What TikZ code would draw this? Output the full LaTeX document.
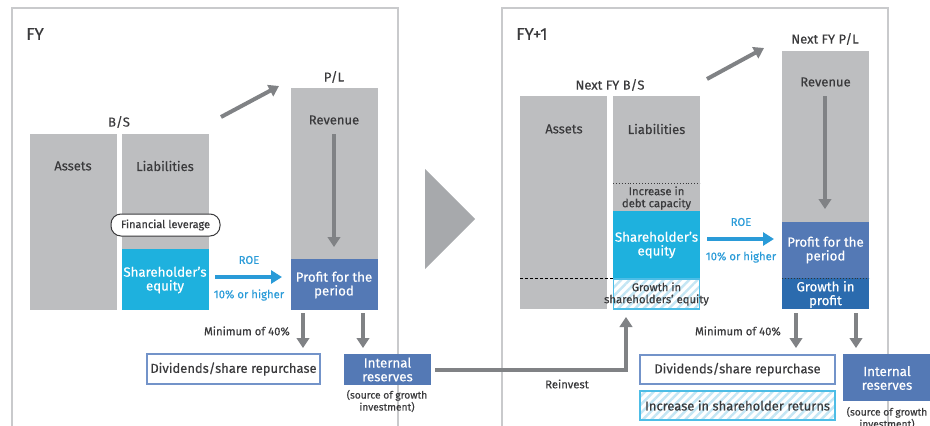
\documentclass[tikz,border=0pt]{standalone}
\usepackage{fontspec}
\setmainfont{Fira Sans}[FakeBold=0.35]
\usetikzlibrary{arrows.meta,patterns.meta}

\definecolor{boxgray}{HTML}{BDBEC0}
\definecolor{arrgray}{HTML}{808285}
\definecolor{eqcyan}{HTML}{1EB1DE}
\definecolor{pblue}{HTML}{5479B5}
\definecolor{dblue}{HTML}{2B6BAE}
\definecolor{roeblue}{HTML}{2A9BD8}
\definecolor{txt}{HTML}{3A3A3C}
\definecolor{framec}{HTML}{C9CACC}
\definecolor{tric}{HTML}{A7A9AC}
\definecolor{divborder}{HTML}{7393C9}
\definecolor{hatchc}{HTML}{C4E6F4}
\definecolor{hatchborder}{HTML}{4DBDE6}

\tikzset{
  blk/.style={inner sep=0, outer sep=0, anchor=north west},
  graybox/.style={blk, fill=boxgray},
  cyanbox/.style={blk, fill=eqcyan},
  bluebox/.style={blk, fill=pblue},
  darkbox/.style={blk, fill=dblue},
  hatchbox/.style={blk, draw=hatchborder, line width=1.3pt,
    preaction={fill=white},
    pattern={Lines[angle=45,distance=6pt,line width=2.4pt]}, pattern color=hatchc},
  outlinebox/.style={blk, fill=white, draw=divborder, line width=1.3pt},
  lab/.style={inner sep=0, align=center, text=txt, font=\fontsize{13}{14}\selectfont},
  wlab/.style={lab, text=white, font=\fontsize{13.3}{13.8}\selectfont},
  small/.style={lab, font=\fontsize{11.3}{12}\selectfont},
  tiny/.style={lab, font=\fontsize{10.2}{12}\selectfont},
  roelab/.style={lab, text=roeblue, font=\fontsize{11.3}{12}\selectfont},
  title/.style={lab, anchor=west, font=\fontsize{17}{18}\selectfont},
  frameline/.style={draw=framec, line width=1.3pt},
  garrow/.style={draw=arrgray, line width=4pt, -{Triangle[width=12.5pt,length=10pt]}},
  groute/.style={draw=arrgray, line width=4pt, -{Triangle[width=12.5pt,length=10pt]}},
  roearrow/.style={draw=roeblue, line width=4.5pt, -{Triangle[width=13pt,length=11pt]}},
  pill/.style={inner sep=0, fill=white, draw=txt, line width=1pt, rounded corners=10pt,
    minimum width=109pt, minimum height=22pt, text=txt, font=\fontsize{11}{12}\selectfont},
}

\begin{document}
\begin{tikzpicture}[x=1pt,y=-1pt]
\useasboundingbox (0,0) rectangle (930,426);

% ---------- panel frames ----------
\draw[frameline] (12,426) -- (12,8) -- (398,8) -- (398,426);
\draw[frameline] (502,426) -- (502,8) -- (888,8) -- (888,426);

% transition triangle
\fill[tric] (425,169) -- (475,219) -- (425,269) -- cycle;

% ================= FY =================
\node[title] (fy) at (26,34) {FY};

% balance sheet
\node[lab] (bs) at (119,122) {B/S};
\node[graybox, minimum width=87pt, minimum height=176pt] (assets) at (30,134) {};
\node[graybox, minimum width=87pt, minimum height=176pt] (liab) at (122,134) {};
\node[cyanbox, minimum width=87pt, minimum height=61pt] (sheq) at (122,249) {};
\node[lab] (assetsT) at (73,166) {Assets};
\node[lab] (liabT) at (165,166) {Liabilities};
\node[wlab] (sheqT) at (165,280) {Shareholder’s\\equity};
\node[pill] (lev) at (165.5,225) {Financial leverage};

% profit and loss
\node[lab] (pl) at (334,77) {P/L};
\node[graybox, minimum width=87pt, minimum height=221pt] (plbox) at (291,88) {};
\node[bluebox, minimum width=87pt, minimum height=51pt] (profit) at (291,259) {};
\node[lab] (revT) at (334,120) {Revenue};
\node[wlab] (profitT) at (334,285) {Profit for the\\period};

\coordinate (revA) at (334,134);
\coordinate (revB) at (334,247);
\draw[garrow] (revA) -- (revB);

\coordinate (diagA) at (221,117);
\coordinate (diagB) at (279,86);
\draw[garrow] (diagA) -- (diagB);

\coordinate (roeA) at (215,277);
\coordinate (roeB) at (282,277);
\draw[roearrow] (roeA) -- (roeB);
\node[roelab] (roeT) at (249,260) {ROE};
\node[roelab] (roeP) at (249,295) {10\% or higher};

\coordinate (dv1a) at (303,313);
\coordinate (dv1b) at (303,348);
\coordinate (ir1a) at (363,313);
\coordinate (ir1b) at (363,348);
\draw[garrow] (dv1a) -- (dv1b);
\draw[garrow] (ir1a) -- (ir1b);
\node[small, anchor=east] (min1) at (290,331) {Minimum of 40\%};

\node[outlinebox, minimum width=173pt, minimum height=30pt] (div1) at (147,354) {};
\node[lab] (div1T) at (233.5,369) {Dividends/share repurchase};
\node[bluebox, minimum width=87pt, minimum height=31pt] (ir1) at (344,354) {};
\node[wlab] (ir1T) at (387.5,369.5) {Internal\\reserves};
\node[tiny] (src1) at (387,401) {(source of growth\\investment)};

% ================= FY+1 =================
\node[title] (fy1) at (516,34) {FY+1};

% next balance sheet
\node[lab] (nbs) at (610,85) {Next FY B/S};
\node[graybox, minimum width=87pt, minimum height=213pt] (nassets) at (520,96) {};
\node[graybox, minimum width=87pt, minimum height=213pt] (nliab) at (613,96) {};
\node[cyanbox, minimum width=87pt, minimum height=67pt] (nsheq) at (613,211) {};
\node[hatchbox, minimum width=86pt, minimum height=30pt] (gse) at (613.5,279) {};
\draw[dotted, line width=0.9pt, txt] (nliab.west |- 0,183) -- (nliab.east |- 0,183);
\draw[dashed, line width=0.8pt, black, dash pattern=on 3pt off 2pt] (nassets.west |- 0,278) -- (nliab.west |- 0,278);
\node[lab] (nassetsT) at (564,129) {Assets};
\node[lab] (nliabT) at (656.5,129) {Liabilities};
\node[small] (debtT) at (656.5,198) {Increase in\\debt capacity};
\node[wlab] (nsheqT) at (656.5,245) {Shareholder’s\\equity};
\node[small] (gseT) at (656.5,294) {Growth in\\shareholders’ equity};

% next profit and loss
\node[lab] (npl) at (825,39) {Next FY P/L};
\node[graybox, minimum width=87pt, minimum height=258pt] (nplbox) at (782,51) {};
\node[bluebox, minimum width=87pt, minimum height=56pt] (nprofit) at (782,222) {};
\node[darkbox, minimum width=87pt, minimum height=31pt] (gprofit) at (782,278) {};
\draw[dotted, line width=0.9pt, black!80] (nplbox.west |- 0,278) -- (nplbox.east |- 0,278);
\node[lab] (nrevT) at (825.5,82) {Revenue};
\node[wlab] (nprofitT) at (825.5,250) {Profit for the\\period};
\node[wlab] (gprofitT) at (825.5,294.5) {Growth in\\profit};

\coordinate (nrevA) at (825,96);
\coordinate (nrevB) at (825,209);
\draw[garrow] (nrevA) -- (nrevB);

\coordinate (ndiagA) at (707,79);
\coordinate (ndiagB) at (764,48);
\draw[garrow] (ndiagA) -- (ndiagB);

\coordinate (nroeA) at (707,239);
\coordinate (nroeB) at (774,239);
\draw[roearrow] (nroeA) -- (nroeB);
\node[roelab] (nroeT) at (741,222) {ROE};
\node[roelab] (nroeP) at (741,257) {10\% or higher};

\coordinate (dv2a) at (796,313);
\coordinate (dv2b) at (796,348);
\coordinate (ir2a) at (856,313);
\coordinate (ir2b) at (856,348);
\draw[garrow] (dv2a) -- (dv2b);
\draw[garrow] (ir2a) -- (ir2b);
\node[small, anchor=east] (min2) at (781,331) {Minimum of 40\%};

\node[outlinebox, minimum width=195pt, minimum height=29pt] (div2) at (640,355) {};
\node[lab] (div2T) at (737.5,369.5) {Dividends/share repurchase};
\node[hatchbox, minimum width=195pt, minimum height=29pt] (ret2) at (640,391) {};
\node[lab] (ret2T) at (737.5,405.5) {Increase in shareholder returns};
\node[bluebox, minimum width=88pt, minimum height=47pt] (ir2) at (843,354) {};
\node[wlab] (ir2T) at (887,378) {Internal\\reserves};
\node[tiny] (src2) at (887,418) {(source of growth\\investment)};

% reinvestment route
\coordinate (reinv) at (626,317);
\draw[groute, shorten <=4pt] (ir1.east) -| (reinv);
\node[small] (reinvT) at (567,384) {Reinvest};

\end{tikzpicture}
\end{document}
